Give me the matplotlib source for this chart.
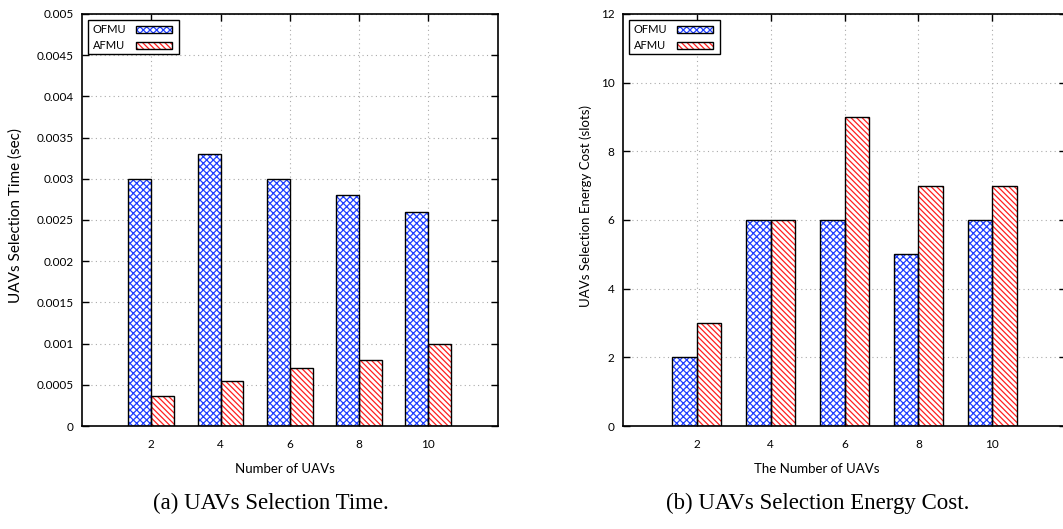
import matplotlib.pyplot as plt
from matplotlib.patches import Rectangle
from matplotlib.transforms import Affine2D

uavs = [2, 4, 6, 8, 10]
time_ofmu = [0.003, 0.0033, 0.003, 0.0028, 0.0026]
time_afmu = [0.00037, 0.00055, 0.0007, 0.0008, 0.001]
energy_ofmu = [2, 6, 6, 5, 6]
energy_afmu = [3, 6, 9, 7, 7]

series_names = ['OFMU', 'AFMU']
time_ticks = [0, 0.0005, 0.001, 0.0015, 0.002, 0.0025, 0.003, 0.0035, 0.004, 0.0045, 0.005]
time_tick_labels = ['0', '0.0005', '0.001', '0.0015', '0.002', '0.0025', '0.003',
                    '0.0035', '0.004', '0.0045', '0.005']
energy_ticks = [0, 2, 4, 6, 8, 10, 12]

plt.rcParams['font.family'] = ['Lato', 'DejaVu Sans']
plt.rcParams['hatch.linewidth'] = 0.9

W = 0.66
BLUE = '#2040ff'
RED = '#ff2020'
STYLES = [(BLUE, 'xxxxx'), (RED, '\\\\\\\\\\\\')]


def hatched_bars(ax, x, vals, color, hatch):
    # hatch drawn in series colour, outline drawn on top in black
    ax.bar(x, vals, W, color='white', edgecolor=color, hatch=hatch, linewidth=0, zorder=2)
    ax.bar(x, vals, W, fill=False, edgecolor='black', linewidth=1.0, zorder=3)


def draw_key(fig, ax):
    # gnuplot-like key: label first, sample after, in pixels from axes top-left
    x0, y0 = ax.transAxes.transform((0, 1))
    tr = Affine2D().translate(x0, y0)
    fig.add_artist(Rectangle((6, -40), 91, 34, facecolor='white', edgecolor='black',
                             linewidth=1.0, transform=tr, zorder=6))
    for i, (name, (color, hatch)) in enumerate(zip(series_names, STYLES)):
        yc = -15.5 - 16.5 * i
        fig.text(11, yc, name, transform=tr, va='center', ha='left', fontsize=8, zorder=7)
        fig.add_artist(Rectangle((54, yc - 3.5), 36, 7, facecolor='white', edgecolor=color,
                                 hatch=hatch, linewidth=0, transform=tr, zorder=7))
        fig.add_artist(Rectangle((54, yc - 3.5), 36, 7, fill=False, edgecolor='black',
                                 linewidth=1.0, transform=tr, zorder=8))


def draw_panel(ax, a, b, ticks, labels, ylim, xlabel, ylabel, xl_pos, yl_pos, yl_size):
    hatched_bars(ax, [x - W / 2 for x in uavs], a, *STYLES[0])
    hatched_bars(ax, [x + W / 2 for x in uavs], b, *STYLES[1])
    ax.set_xlim(0, 12)
    ax.set_ylim(*ylim)
    ax.set_xticks(uavs)
    ax.set_yticks(ticks)
    ax.set_yticklabels(labels)
    ax.tick_params(direction='in', length=5, width=1, top=True, right=True, labelsize=8.5)
    ax.tick_params(axis='y', pad=6)
    ax.tick_params(axis='x', pad=9)
    ax.grid(True, linestyle=(0, (1, 3)), color='#aaaaaa', linewidth=0.8, zorder=0)
    ax.set_axisbelow(True)
    for s in ax.spines.values():
        s.set_linewidth(1.2)
    ax.set_xlabel(xlabel, fontsize=9.5, va='top')
    ax.set_ylabel(ylabel, fontsize=yl_size)
    ax.xaxis.set_label_coords(*xl_pos)
    ax.yaxis.set_label_coords(*yl_pos)


fig = plt.figure(figsize=(10.63, 5.29), dpi=100)
ax1 = fig.add_axes([0.0771, 0.1947, 0.391, 0.779])
ax2 = fig.add_axes([0.586, 0.1947, 0.417, 0.779])

draw_panel(ax1, time_ofmu, time_afmu, time_ticks, time_tick_labels, (0, 0.005),
           'Number of UAVs', 'UAVs Selection Time (sec)', (0.488, -0.09), (-0.142, 0.51), 11)
draw_panel(ax2, energy_ofmu, energy_afmu, energy_ticks, [str(t) for t in energy_ticks],
           (0, 12), 'The Number of UAVs', 'UAVs Selection Energy Cost (slots)',
           (0.438, -0.09), (-0.07, 0.534), 9.5)
draw_key(fig, ax1)
draw_key(fig, ax2)

fig.text(0.255, 0.048, '(a) UAVs Selection Time.', ha='center', va='center',
         fontsize=16.5, family='Liberation Serif')
fig.text(0.769, 0.048, '(b) UAVs Selection Energy Cost.', ha='center', va='center',
         fontsize=16.5, family='Liberation Serif')

fig.savefig('out.png', dpi=100)
